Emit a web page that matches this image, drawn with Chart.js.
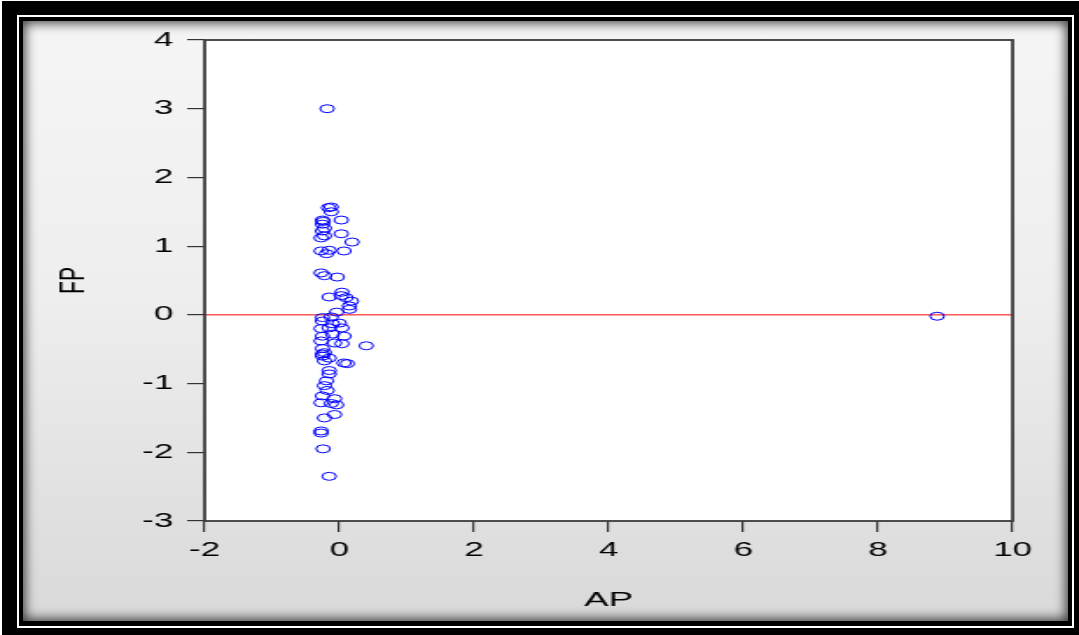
<!DOCTYPE html>
<html>
<head>
<meta charset="utf-8">
<title>FP vs AP</title>
<script src="https://cdn.jsdelivr.net/npm/chart.js@4.4.1/dist/chart.umd.min.js"></script>
<style>
    html, body {
        margin: 0;
        padding: 0;
        background: #ffffff;
        width: 1079px;
        height: 635px;
        overflow: hidden;
    }
    .outer {
        position: absolute;
        left: 2px;
        top: 1px;
        width: 1077px;
        height: 634px;
        background: #000000;
    }
    .whiteLine {
        position: absolute;
        left: 17px;
        top: 15px;
        width: 1057px;
        height: 613px;
        box-sizing: border-box;
        border: 2px solid #ffffff;
        background: #000000;
    }
    .panel {
        position: absolute;
        left: 23px;
        top: 21px;
        width: 1045px;
        height: 600px;
        background: linear-gradient(#f5f5f5, #eeeeee 45%, #d9d9d9);
        box-shadow: inset 0 0 12px 2px rgba(0, 0, 0, 0.75);
    }
    .chartBox {
        position: absolute;
        left: 0;
        top: 0;
        width: 617px;
        height: 635px;
        transform: scaleX(1.7488);
        transform-origin: 0 0;
    }
</style>
</head>
<body>
<div class="outer"></div>
<div class="whiteLine"></div>
<div class="panel"></div>
<div class="chartBox"><canvas id="scatterChart"></canvas></div>
<script>
// AP (x) and FP (y) values
const apValues = [
    -0.18, 8.88, -0.12, -0.16, -0.25, 0.03, -0.25, -0.22, -0.25, 0.03,
    -0.27, -0.22, 0.19, -0.27, -0.15, -0.19, 0.07, -0.27, -0.22, -0.03,
    -0.15, 0.04, 0.03, 0.10, 0.18, 0.15, -0.04, -0.25, -0.12, 0.15,
    -0.25, -0.10, 0.00, -0.27, -0.15, 0.04, -0.25, -0.10, 0.07, -0.27,
    -0.07, 0.04, 0.40, -0.25, -0.25, -0.22, -0.15, 0.07, 0.12, -0.15,
    -0.15, -0.19, -0.22, -0.18, -0.25, -0.07, -0.27, -0.12, -0.04, -0.22,
    -0.07, -0.27, -0.27, -0.24, -0.15, -0.12, -0.24, -0.25, -0.22,
];
const fpValues = [
    3.00, -0.02, 1.57, 1.56, 1.38, 1.38, 1.32, 1.26, 1.22, 1.18,
    1.12, 1.15, 1.06, 0.93, 0.94, 0.89, 0.93, 0.61, 0.57, 0.55,
    0.26, 0.33, 0.28, 0.25, 0.20, 0.13, 0.04, -0.04, -0.03, 0.08,
    -0.09, -0.13, -0.12, -0.20, -0.19, -0.19, -0.31, -0.28, -0.31, -0.38,
    -0.41, -0.42, -0.45, -0.49, -0.57, -0.67, -0.63, -0.70, -0.71, -0.81,
    -0.86, -0.96, -1.03, -1.10, -1.18, -1.22, -1.28, -1.29, -1.31, -1.50,
    -1.45, -1.69, -1.72, -1.95, -2.35, 1.50, 1.36, -0.60, -0.55,
];
const xTicks = [-2, 0, 2, 4, 6, 8, 10];
const yTicks = [-3, -2, -1, 0, 1, 2, 3, 4];
const zeroLineValue = 0;

const FONT = "'Liberation Sans', Arial, sans-serif";

function buildPoints(xs, ys) {
    return xs.map((x, i) => ({ x: x, y: ys[i] }));
}

const plotFramePlugin = {
    id: "plotFrame",
    beforeDraw(chart) {
        const { ctx, chartArea } = chart;
        ctx.save();
        ctx.fillStyle = "#ffffff";
        ctx.fillRect(chartArea.left, chartArea.top, chartArea.width, chartArea.height);
        ctx.restore();
    },
    beforeDatasetsDraw(chart) {
        const { ctx, chartArea } = chart;
        const y = chart.scales.y.getPixelForValue(zeroLineValue);
        ctx.save();
        ctx.strokeStyle = "#ff0000";
        ctx.lineWidth = 1;
        ctx.beginPath();
        ctx.moveTo(chartArea.left, y);
        ctx.lineTo(chartArea.right, y);
        ctx.stroke();
        ctx.restore();
    },
    afterDatasetsDraw(chart) {
        const { ctx, chartArea } = chart;
        ctx.save();
        ctx.strokeStyle = "#3a3a3a";
        ctx.lineWidth = 1.8;
        ctx.strokeRect(chartArea.left, chartArea.top, chartArea.width, chartArea.height);
        ctx.restore();
    },
};

function createChart(canvasID) {
    const content = document.getElementById(canvasID);
    if (!content) return;

    new Chart(content, {
        type: "scatter",
        data: {
            datasets: [
                {
                    label: "FP",
                    data: buildPoints(apValues, fpValues),
                    pointStyle: "circle",
                    pointRadius: 4,
                    pointHoverRadius: 4,
                    borderWidth: 1,
                    borderColor: "#0000ff",
                    backgroundColor: "rgba(0, 0, 0, 0)",
                },
            ],
        },
        options: {
            responsive: true,
            maintainAspectRatio: false,
            animation: false,
            events: [],
            layout: {
                padding: { left: 26, right: 38, top: 40, bottom: 18 },
            },
            plugins: {
                legend: { display: false },
                tooltip: { enabled: false },
            },
            scales: {
                x: {
                    type: "linear",
                    min: xTicks[0],
                    max: xTicks[xTicks.length - 1],
                    afterBuildTicks: (scale) => {
                        scale.ticks = xTicks.map((v) => ({ value: v }));
                    },
                    afterFit: (scale) => {
                        scale.height = 96;
                    },
                    grid: {
                        drawOnChartArea: false,
                        drawTicks: true,
                        tickLength: 11,
                        color: "#333333",
                        lineWidth: 1.2,
                    },
                    border: { display: false },
                    ticks: {
                        color: "#000000",
                        padding: 6,
                        maxRotation: 0,
                        font: { family: FONT, size: 20 },
                    },
                    title: {
                        display: true,
                        text: "AP",
                        color: "#000000",
                        font: { family: FONT, size: 21 },
                    },
                },
                y: {
                    type: "linear",
                    min: yTicks[0],
                    max: yTicks[yTicks.length - 1],
                    afterBuildTicks: (scale) => {
                        scale.ticks = yTicks.map((v) => ({ value: v }));
                    },
                    afterFit: (scale) => {
                        scale.width = 91;
                    },
                    grid: {
                        drawOnChartArea: false,
                        drawTicks: true,
                        tickLength: 10,
                        color: "#333333",
                        lineWidth: 1.2,
                    },
                    border: { display: false },
                    ticks: {
                        color: "#000000",
                        padding: 8,
                        font: { family: FONT, size: 20 },
                    },
                    title: {
                        display: true,
                        text: "FP",
                        color: "#000000",
                        font: { family: FONT, size: 21 },
                    },
                },
            },
        },
        plugins: [plotFramePlugin],
    });
}

createChart("scatterChart");
</script>
</body>
</html>
